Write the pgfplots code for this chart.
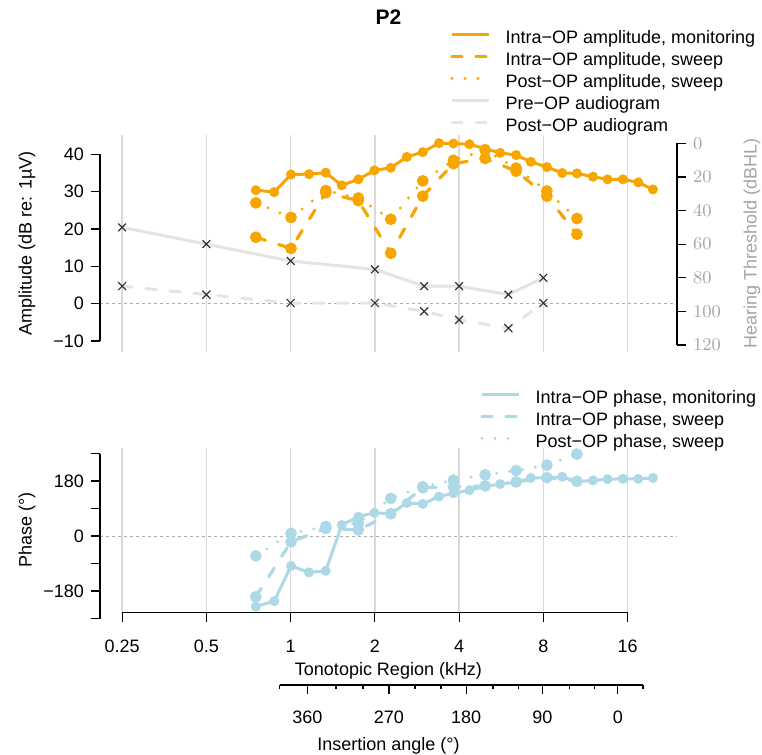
\documentclass[border=0pt]{standalone}
\usepackage{fontspec}
\setmainfont{Liberation Sans}
\usepackage{pgfplots}
\pgfplotsset{compat=1.18}
\definecolor{amp}{RGB}{247,166,0}
\definecolor{pha}{RGB}{173,216,230}
\definecolor{aud}{RGB}{228,228,228}
\definecolor{gridc}{RGB}{218,218,218}
\definecolor{zeroc}{RGB}{175,175,175}
\definecolor{rgray}{RGB}{165,165,165}
\definecolor{xmark}{RGB}{50,50,50}
\pgfplotsset{
  every axis/.append style={
    scale only axis, width=288.5pt, anchor=north west,
    clip=false, axis line style={draw=none},
    tick align=outside, major tick length=4.5pt,
    tick style={black, line width=0.6pt},
    grid style={gridc, line width=0.75pt},
    legend cell align=left,
    legend style={draw=none, fill=none, anchor=north west, inner sep=0pt, row sep=0pt,
       nodes={inner sep=0pt, text height=7pt, text depth=4pt}},
  },
  mon/.style={solid, line width=1.5pt, mark=*, mark size=1.7pt, mark options={solid, draw=none}},
  swp/.style={line width=1.6pt, line cap=round, dash pattern=on 5pt off 7pt, mark=*, mark size=2.1pt, mark options={solid, draw=none}},
  pst/.style={line width=1.6pt, line cap=round, dash pattern=on 0pt off 6.5pt, mark=*, mark size=2.1pt, mark options={solid, draw=none}},
}
\begin{document}
\begin{tikzpicture}[font=\fontsize{9}{11}\selectfont]
\useasboundingbox (0,0) rectangle (381pt,-377.5pt);

% ---------------- amplitude (left axis) ----------------
\begin{axis}[at={(50pt,-67.5pt)}, height=108.5pt,
  xmode=log, log basis x=2, xmin=0.2083, xmax=24.03,
  xtick={0.25,0.5,1,2,4,8,16}, minor xtick={}, x tick style={draw=none},
  ymin=-12.94, ymax=45.18,
  xmajorgrids, xticklabels={},
  ytick={-10,0,10,20,30,40}, yticklabels={−10,0,10,20,30,40}, ytick pos=left,
  ylabel={Amplitude (dB re: 1µV)},
  ylabel style={at={(axis description cs:-0.1265,0.5)}, anchor=center},
  title={P2}, title style={font=\fontsize{10.5}{12}\selectfont\bfseries, at={(axis description cs:0.5,1)}, anchor=center, yshift=53pt},
  legend image code/.code={\draw[#1] (0pt,3.2pt) -- (18.5pt,3.2pt); \path (26pt,3.2pt);},
  legend style={at={(axis description cs:0.6066,1.4866)}},
]
\addlegendimage{amp, line width=1.5pt}
\addlegendentry{Intra−OP amplitude, monitoring}
\addlegendimage{amp, line width=1.6pt, line cap=round, dash pattern=on 5pt off 7pt}
\addlegendentry{Intra−OP amplitude, sweep}
\addlegendimage{amp, line width=1.6pt, line cap=round, dash pattern=on 0pt off 6.5pt}
\addlegendentry{Post−OP amplitude, sweep}
\addlegendimage{aud, line width=1.5pt}
\addlegendentry{Pre−OP audiogram}
\addlegendimage{aud, line width=1.5pt, line cap=round, dash pattern=on 5pt off 7pt}
\addlegendentry{Post−OP audiogram}

\addplot[zeroc, line width=0.5pt, dash pattern=on 1.5pt off 1.5pt, forget plot] coordinates {(0.2083,0) (24.03,0)};

\addplot[amp, pst, forget plot] coordinates {
(0.751,27.0) (1.003,23.1) (1.335,30.3) (1.746,28.3) (2.280,22.6) (2.967,32.9)
(3.818,38.4) (4.955,41.1) (6.395,36.3) (8.236,30.2) (10.55,22.8)};
\addplot[amp, swp, forget plot] coordinates {
(0.751,17.8) (1.003,14.8) (1.335,29.7) (1.746,27.6) (2.280,13.5) (2.967,28.8)
(3.818,37.5) (4.955,38.9) (6.395,35.5) (8.236,28.8) (10.55,18.6)};
\addplot[amp, mon, forget plot] coordinates {
(0.751,30.4) (0.874,29.9) (1.003,34.6) (1.163,34.7) (1.335,35.1) (1.523,31.7)
(1.746,33.3) (1.992,35.7) (2.280,36.4) (2.601,39.3) (2.967,40.6) (3.391,43.0)
(3.818,42.9) (4.356,42.7) (4.955,41.5) (5.606,40.4) (6.395,39.8) (7.220,38.0)
(8.236,36.6) (9.344,35.0) (10.55,34.9) (12.03,34.0) (13.57,33.3) (15.40,33.3)
(17.47,32.5) (19.71,30.6)};

\draw[black, line width=0.6pt] (axis cs:0.2083,-10) -- (axis cs:0.2083,40);
\end{axis}

% ---------------- hearing threshold (right axis) ----------------
\begin{axis}[at={(50pt,-67.5pt)}, height=108.5pt,
  xmode=log, log basis x=2, xmin=0.2083, xmax=24.03,
  y dir=reverse, ymin=-4.94, ymax=124.15,
  hide x axis,
  ytick={0,20,40,60,80,100,120}, ytick pos=right, yticklabel pos=right,
  yticklabel style={rgray},
  ylabel={Hearing Threshold (dBHL)},
  ylabel style={rgray, at={(axis description cs:1.13,0.5)}, anchor=center},
]
\addplot[aud, line width=1.5pt, mark=x, mark size=2.7pt, mark options={xmark, line width=0.6pt, solid}] coordinates {
(0.25,50) (0.5,60) (1,70) (2,75) (3,85) (4,85) (6,90) (8,80)};
\addplot[aud, line width=1.5pt, line cap=round, dash pattern=on 5pt off 7pt, mark=x, mark size=2.7pt, mark options={xmark, line width=0.6pt, solid}] coordinates {
(0.25,85) (0.5,90) (1,95) (2,95) (3,100) (4,105) (6,110) (8,95)};
\draw[black, line width=0.6pt] (axis cs:24.03,0) -- (axis cs:24.03,120);
\end{axis}

% ---------------- phase ----------------
\begin{axis}[at={(50pt,-224pt)}, height=82.35pt,
  xmode=log, log basis x=2, xmin=0.2083, xmax=24.03,
  xtick={0.25,0.5,1,2,4,8,16}, minor xtick={},
  ymin=-251, ymax=288,
  xmajorgrids, xtick pos=left, xticklabel pos=left,
  xticklabels={0.25,0.5,1,2,4,8,16}, xticklabel shift=5.8pt,
  ytick={-180,-90,0,90,180,270}, yticklabels={−180,,0,,180,}, ytick pos=left,
  ylabel={Phase (°)},
  ylabel style={at={(axis description cs:-0.1265,0.5)}, anchor=center},
  xlabel={Tonotopic Region (kHz)},
  xlabel style={at={(axis description cs:0.5,-0.35)}, anchor=center},
  legend image code/.code={\draw[#1] (0pt,3.2pt) -- (18.5pt,3.2pt); \path (26pt,3.2pt);},
  legend style={at={(axis description cs:0.6586,1.3558)}},
]
\addlegendimage{pha, line width=1.5pt}
\addlegendentry{Intra−OP phase, monitoring}
\addlegendimage{pha, line width=1.6pt, line cap=round, dash pattern=on 5pt off 7pt}
\addlegendentry{Intra−OP phase, sweep}
\addlegendimage{pha, line width=1.6pt, line cap=round, dash pattern=on 0pt off 6.5pt}
\addlegendentry{Post−OP phase, sweep}

\addplot[zeroc, line width=0.5pt, dash pattern=on 1.5pt off 1.5pt, forget plot] coordinates {(0.2083,0) (24.03,0)};

\addplot[pha, pst, forget plot] coordinates {
(0.751,-65) (1.003,9) (1.335,31) (1.746,42) (2.280,123) (2.967,161)
(3.818,183) (4.955,200) (6.395,214) (8.236,232) (10.55,268)};
\addplot[pha, swp, forget plot] coordinates {
(0.751,-199) (1.003,-19) (1.335,25) (1.746,20) (2.280,73) (2.967,158)
(3.818,161) (4.955,164) (6.395,177) (8.236,191) (10.55,179)};
\addplot[pha, mon, forget plot] coordinates {
(0.751,-231) (0.874,-213) (1.003,-98) (1.163,-119) (1.335,-114) (1.523,36)
(1.746,63) (1.992,76) (2.280,73) (2.601,108) (2.967,105) (3.391,129)
(3.818,140) (4.356,150) (4.955,162) (5.606,170) (6.395,176) (7.220,190)
(8.236,190) (9.344,194) (10.55,178) (12.03,182) (13.57,186) (15.40,187)
(17.47,187) (19.71,190)};

\draw[black, line width=0.6pt] (axis cs:0.2083,-270) -- (axis cs:0.2083,270);
\draw[black, line width=0.6pt] (axis cs:0.2083,-270) -- ++(-4.5pt,0pt);
\draw[black, line width=0.6pt] (axis cs:0.25,-251) -- (axis cs:16,-251);
\end{axis}

% ---------------- insertion angle (positions in log2 kHz) ----------------
\begin{axis}[at={(50pt,-341.5pt)}, height=1pt, ymin=0, ymax=1,
  xmin=-2.265, xmax=4.587,
  hide y axis,
  xtick={0.197,1.166,2.083,2.988,3.885}, xticklabels={360,270,180,90,0},
  minor xtick={-0.131,0.538,0.857,1.475,1.784,2.403,2.701,3.309,3.606,4.183},
  xtick pos=left, xticklabel pos=left, xticklabel shift=5pt,
  major tick length=4.5pt, minor tick length=2pt,
  xlabel={Insertion angle (°)},
  xlabel style={at={(axis description cs:0.5,0)}, anchor=center, yshift=-30.5pt},
]
\draw[black, line width=0.6pt] (axis cs:-0.131,0) -- (axis cs:4.183,0);
\end{axis}
\end{tikzpicture}
\end{document}
